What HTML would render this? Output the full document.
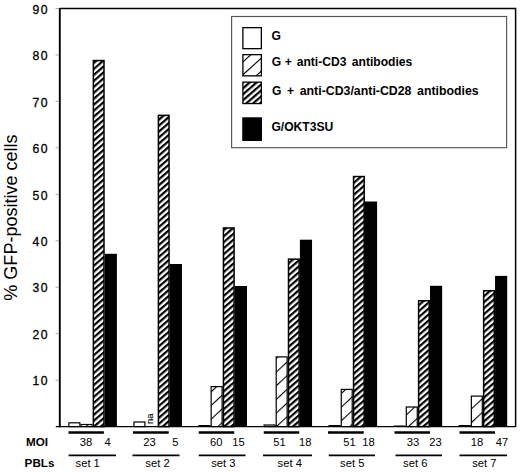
<!DOCTYPE html>
<html><head><meta charset="utf-8"><style>
html,body{margin:0;padding:0;background:#fff;}
svg{display:block;}
text{font-family:"Liberation Sans",sans-serif;fill:#000;}
.tk{font-size:12.2px;letter-spacing:1.4px;stroke:#000;stroke-width:0.3px;}
.lb{font-size:11.2px;}
.bl{font-size:11.7px;font-weight:bold;}
.lg{font-size:12.1px;font-weight:bold;}
.yl{font-size:18.05px;}
.na{font-size:9.5px;stroke:#000;stroke-width:0.15px;}
</style></head><body>
<svg width="520" height="472" viewBox="0 0 520 472">
<defs>
<clipPath id="cl"><rect x="242.9" y="54.6" width="18.5" height="21.2"/></clipPath>
<pattern id="dh" patternUnits="userSpaceOnUse" width="4.5" height="4.5" patternTransform="rotate(49)">
<rect x="0" y="0" width="4.5" height="4.5" fill="#fff"/>
<rect x="0" y="0" width="2.2" height="4.5" fill="#000"/>
</pattern>
<pattern id="lh" patternUnits="userSpaceOnUse" width="10" height="10" patternTransform="rotate(47)">
<rect x="0" y="0" width="10" height="10" fill="#fff"/>
<rect x="0" y="0" width="1.1" height="10" fill="#000"/>
</pattern>
</defs>
<rect width="520" height="472" fill="#fff"/>
<path d="M59.8 8.5 H515.6 V427" fill="none" stroke="#000" stroke-width="1.5"/>
<line x1="59.8" y1="8.2" x2="59.8" y2="427.2" stroke="#000" stroke-width="1.9"/>
<line x1="55.8" y1="426.60" x2="516" y2="426.60" stroke="#000" stroke-width="1.1"/>
<line x1="55.6" y1="380.14" x2="59" y2="380.14" stroke="#999" stroke-width="0.9"/>
<text x="48.9" y="385.34" class="tk" text-anchor="end">10</text>
<line x1="55.6" y1="333.68" x2="59" y2="333.68" stroke="#999" stroke-width="0.9"/>
<text x="48.9" y="338.88" class="tk" text-anchor="end">20</text>
<line x1="55.6" y1="287.22" x2="59" y2="287.22" stroke="#999" stroke-width="0.9"/>
<text x="48.9" y="292.42" class="tk" text-anchor="end">30</text>
<line x1="55.6" y1="240.76" x2="59" y2="240.76" stroke="#999" stroke-width="0.9"/>
<text x="48.9" y="245.96" class="tk" text-anchor="end">40</text>
<line x1="55.6" y1="194.30" x2="59" y2="194.30" stroke="#999" stroke-width="0.9"/>
<text x="48.9" y="199.50" class="tk" text-anchor="end">50</text>
<line x1="55.6" y1="147.84" x2="59" y2="147.84" stroke="#999" stroke-width="0.9"/>
<text x="48.9" y="153.04" class="tk" text-anchor="end">60</text>
<line x1="55.6" y1="101.38" x2="59" y2="101.38" stroke="#999" stroke-width="0.9"/>
<text x="48.9" y="106.58" class="tk" text-anchor="end">70</text>
<line x1="55.6" y1="54.92" x2="59" y2="54.92" stroke="#999" stroke-width="0.9"/>
<text x="48.9" y="60.12" class="tk" text-anchor="end">80</text>
<line x1="55.6" y1="8.46" x2="59" y2="8.46" stroke="#999" stroke-width="0.9"/>
<text x="48.9" y="13.66" class="tk" text-anchor="end">90</text>
<rect x="68.90" y="422.80" width="10.95" height="3.80" fill="#fff" stroke="#000" stroke-width="1.2"/>
<rect x="81.05" y="424.50" width="10.95" height="2.10" fill="url(#lh)" stroke="#000" stroke-width="1.2"/>
<rect x="93.35" y="60.55" width="10.65" height="366.05" fill="url(#dh)" stroke="#000" stroke-width="1.5"/>
<rect x="104.75" y="253.80" width="12.15" height="172.80" fill="#000"/>
<rect x="133.95" y="422.00" width="10.95" height="4.60" fill="#fff" stroke="#000" stroke-width="1.2"/>
<rect x="158.40" y="115.35" width="10.65" height="311.25" fill="url(#dh)" stroke="#000" stroke-width="1.5"/>
<rect x="169.80" y="264.00" width="12.15" height="162.60" fill="#000"/>
<rect x="198.40" y="425.00" width="12.15" height="1.6" fill="#000"/>
<rect x="211.15" y="386.60" width="10.95" height="40.00" fill="url(#lh)" stroke="#000" stroke-width="1.2"/>
<rect x="223.45" y="227.95" width="10.65" height="198.65" fill="url(#dh)" stroke="#000" stroke-width="1.5"/>
<rect x="234.85" y="286.00" width="12.15" height="140.60" fill="#000"/>
<rect x="264.05" y="425.00" width="10.95" height="1.60" fill="#fff" stroke="#000" stroke-width="1.2"/>
<rect x="276.20" y="356.90" width="10.95" height="69.70" fill="url(#lh)" stroke="#000" stroke-width="1.2"/>
<rect x="288.50" y="259.15" width="10.65" height="167.45" fill="url(#dh)" stroke="#000" stroke-width="1.5"/>
<rect x="299.90" y="239.70" width="12.15" height="186.90" fill="#000"/>
<rect x="328.50" y="425.00" width="12.15" height="1.6" fill="#000"/>
<rect x="341.25" y="389.40" width="10.95" height="37.20" fill="url(#lh)" stroke="#000" stroke-width="1.2"/>
<rect x="353.55" y="176.55" width="10.65" height="250.05" fill="url(#dh)" stroke="#000" stroke-width="1.5"/>
<rect x="364.95" y="201.50" width="12.15" height="225.10" fill="#000"/>
<rect x="393.55" y="425.50" width="12.15" height="1.1" fill="#000"/>
<rect x="406.30" y="407.00" width="10.95" height="19.60" fill="url(#lh)" stroke="#000" stroke-width="1.2"/>
<rect x="418.60" y="300.75" width="10.65" height="125.85" fill="url(#dh)" stroke="#000" stroke-width="1.5"/>
<rect x="430.00" y="285.80" width="12.15" height="140.80" fill="#000"/>
<rect x="458.60" y="425.00" width="12.15" height="1.6" fill="#000"/>
<rect x="471.35" y="396.10" width="10.95" height="30.50" fill="url(#lh)" stroke="#000" stroke-width="1.2"/>
<rect x="483.65" y="290.75" width="10.65" height="135.85" fill="url(#dh)" stroke="#000" stroke-width="1.5"/>
<rect x="495.05" y="275.90" width="12.15" height="150.70" fill="#000"/>
<line x1="68.5" y1="432.5" x2="103.9" y2="432.5" stroke="#000" stroke-width="2.4"/>
<line x1="68.6" y1="455.4" x2="116" y2="455.4" stroke="#000" stroke-width="1.6"/>
<text x="85.9" y="445.6" class="lb" text-anchor="middle">38</text>
<text x="107.6" y="445.6" class="lb" text-anchor="middle">4</text>
<text x="87.7" y="467" class="lb" text-anchor="middle">set 1</text>
<line x1="133" y1="432.5" x2="168.75" y2="432.5" stroke="#000" stroke-width="2.4"/>
<line x1="132.5" y1="455.4" x2="179.5" y2="455.4" stroke="#000" stroke-width="1.6"/>
<text x="149.6" y="445.6" class="lb" text-anchor="middle">23</text>
<text x="175.25" y="445.6" class="lb" text-anchor="middle">5</text>
<text x="157.5" y="467" class="lb" text-anchor="middle">set 2</text>
<line x1="198.75" y1="432.5" x2="234.25" y2="432.5" stroke="#000" stroke-width="2.4"/>
<line x1="198.75" y1="455.4" x2="245.5" y2="455.4" stroke="#000" stroke-width="1.6"/>
<text x="216.25" y="445.6" class="lb" text-anchor="middle">60</text>
<text x="238.6" y="445.6" class="lb" text-anchor="middle">15</text>
<text x="223.4" y="467" class="lb" text-anchor="middle">set 3</text>
<line x1="263.75" y1="432.5" x2="299.25" y2="432.5" stroke="#000" stroke-width="2.4"/>
<line x1="263" y1="455.4" x2="312" y2="455.4" stroke="#000" stroke-width="1.6"/>
<text x="279.6" y="445.6" class="lb" text-anchor="middle">51</text>
<text x="305.25" y="445.6" class="lb" text-anchor="middle">18</text>
<text x="289.75" y="467" class="lb" text-anchor="middle">set 4</text>
<line x1="328" y1="432.5" x2="363.75" y2="432.5" stroke="#000" stroke-width="2.4"/>
<line x1="328.75" y1="455.4" x2="375" y2="455.4" stroke="#000" stroke-width="1.6"/>
<text x="349.4" y="445.6" class="lb" text-anchor="middle">51</text>
<text x="368.6" y="445.6" class="lb" text-anchor="middle">18</text>
<text x="352.25" y="467" class="lb" text-anchor="middle">set 5</text>
<line x1="394.5" y1="432.5" x2="430" y2="432.5" stroke="#000" stroke-width="2.4"/>
<line x1="395.5" y1="455.4" x2="442" y2="455.4" stroke="#000" stroke-width="1.6"/>
<text x="412.9" y="445.6" class="lb" text-anchor="middle">33</text>
<text x="435.4" y="445.6" class="lb" text-anchor="middle">23</text>
<text x="415.25" y="467" class="lb" text-anchor="middle">set 6</text>
<line x1="459.5" y1="432.5" x2="495" y2="432.5" stroke="#000" stroke-width="2.4"/>
<line x1="459.5" y1="455.4" x2="507" y2="455.4" stroke="#000" stroke-width="1.6"/>
<text x="476.9" y="445.6" class="lb" text-anchor="middle">18</text>
<text x="502.1" y="445.6" class="lb" text-anchor="middle">47</text>
<text x="484.4" y="467" class="lb" text-anchor="middle">set 7</text>
<text transform="translate(153.2,424) rotate(-90)" class="na">na</text>
<text x="26" y="445.6" class="bl">MOI</text>
<text x="24.6" y="467" class="bl">PBLs</text>
<text transform="translate(17.4,300.7) rotate(-90)" class="yl">% GFP-positive cells</text>
<rect x="231.6" y="16.5" width="275" height="131.2" fill="#fff" stroke="#555" stroke-width="1.15"/>
<rect x="242.90" y="27.65" width="18.45" height="21.00" fill="#fff" stroke="#000" stroke-width="1.3"/>
<rect x="242.90" y="54.65" width="18.45" height="21.20" fill="#fff"/>
<g clip-path="url(#cl)" stroke="#000" stroke-width="1.1">
<line x1="236.0" y1="68.10" x2="268.0" y2="39.30"/>
<line x1="236.0" y1="81.00" x2="268.0" y2="52.20"/>
<line x1="236.0" y1="93.90" x2="268.0" y2="65.10"/>
</g>
<rect x="242.90" y="54.65" width="18.45" height="21.20" fill="none" stroke="#000" stroke-width="1.3"/>
<rect x="242.90" y="82.15" width="18.45" height="21.40" fill="url(#dh)" stroke="#000" stroke-width="1.3"/>
<rect x="242.90" y="117.95" width="18.45" height="22.40" fill="#000" stroke="#000" stroke-width="1.3"/>
<text x="271.60" y="39.60" class="lg">G</text>
<text x="271.70" y="66.30" class="lg">G</text>
<text x="284.70" y="66.30" class="lg">+</text>
<text x="296.70" y="66.30" class="lg">anti-CD3</text>
<text x="351.80" y="66.30" class="lg">antibodies</text>
<text x="272.00" y="94.70" class="lg">G</text>
<text x="286.90" y="94.70" class="lg">+</text>
<text x="299.70" y="94.70" class="lg" style="font-size:12.35px">anti-CD3/anti-CD28</text>
<text x="417.10" y="94.70" class="lg" style="font-size:12.3px">antibodies</text>
<text x="271.40" y="130.50" class="lg">G/OKT3SU</text>
</svg>
</body></html>
